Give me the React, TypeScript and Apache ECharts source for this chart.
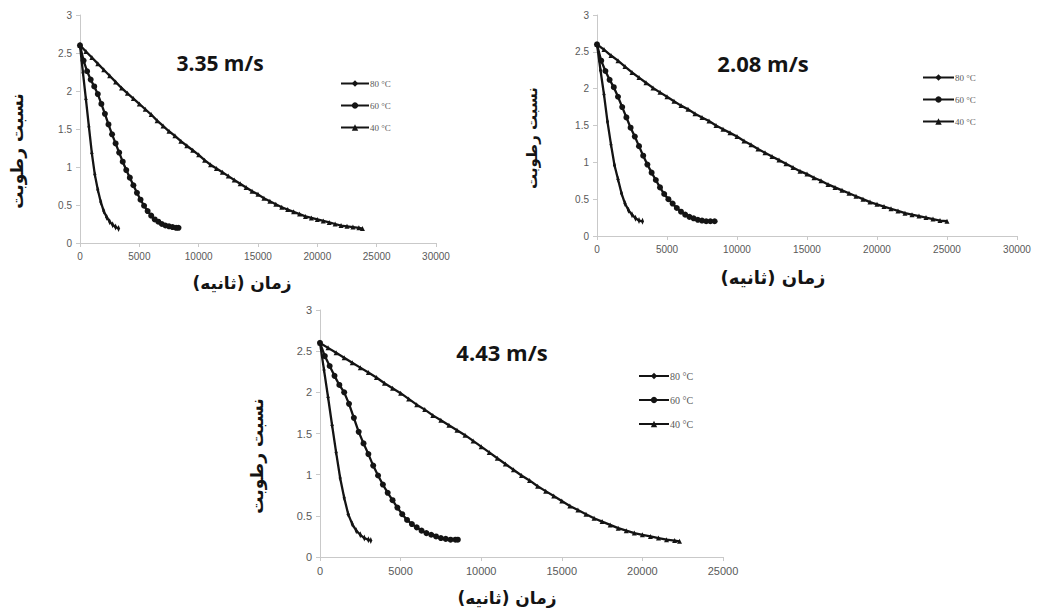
import React, { useEffect, useRef } from "react";
import * as echarts from "echarts";

// ---------- data ----------
const seriesNames = ["80 °C", "60 °C", "40 °C"];
const panelTitles = ["3.35 m/s", "2.08 m/s", "4.43 m/s"];
const yTicks = [0, 0.5, 1, 1.5, 2, 2.5, 3];
const xMax = [30000, 30000, 25000];

// panel 1 : 3.35 m/s
const t80_p1 = [0, 250, 500, 750, 1000, 1250, 1500, 1750, 2000, 2250, 2500, 2750, 3000, 3250];
const m80_p1 = [2.6, 2.24, 1.89, 1.53, 1.18, 0.9, 0.7, 0.54, 0.42, 0.34, 0.28, 0.24, 0.21, 0.19];
const t60_p1 = [0, 300, 600, 900, 1200, 1500, 1800, 2100, 2400, 2700, 3000, 3300, 3600, 3900, 4200, 4500, 4800, 5100, 5400, 5700, 6000, 6300, 6600, 6900, 7200, 7500, 7800, 8100, 8300];
const m60_p1 = [2.6, 2.4, 2.26, 2.15, 2.06, 1.96, 1.83, 1.7, 1.56, 1.43, 1.31, 1.19, 1.07, 0.96, 0.86, 0.76, 0.66, 0.57, 0.49, 0.42, 0.36, 0.31, 0.28, 0.25, 0.23, 0.22, 0.21, 0.2, 0.2];
const t40_p1 = [0, 500, 1000, 1500, 2000, 2500, 3000, 3500, 4000, 4500, 5000, 5500, 6000, 6500, 7000, 7500, 8000, 8500, 9000, 9500, 10000, 10500, 11000, 11500, 12000, 12500, 13000, 13500, 14000, 14500, 15000, 15500, 16000, 16500, 17000, 17500, 18000, 18500, 19000, 19500, 20000, 20500, 21000, 21500, 22000, 22500, 23000, 23500, 23800];
const m40_p1 = [2.6, 2.52, 2.44, 2.36, 2.28, 2.2, 2.12, 2.04, 1.97, 1.9, 1.83, 1.76, 1.69, 1.61, 1.54, 1.47, 1.41, 1.34, 1.28, 1.22, 1.16, 1.09, 1.03, 0.98, 0.93, 0.88, 0.83, 0.78, 0.73, 0.68, 0.64, 0.59, 0.55, 0.51, 0.47, 0.44, 0.41, 0.38, 0.35, 0.33, 0.31, 0.29, 0.27, 0.25, 0.23, 0.22, 0.21, 0.2, 0.19];

// panel 2 : 2.08 m/s
const t80_p2 = [0, 250, 500, 750, 1000, 1250, 1500, 1750, 2000, 2250, 2500, 2750, 3000, 3250];
const m80_p2 = [2.6, 2.25, 1.92, 1.55, 1.24, 0.96, 0.77, 0.58, 0.44, 0.35, 0.29, 0.24, 0.21, 0.2];
const t60_p2 = [0, 300, 600, 900, 1200, 1500, 1800, 2100, 2400, 2700, 3000, 3300, 3600, 3900, 4200, 4500, 4800, 5100, 5400, 5700, 6000, 6300, 6600, 6900, 7200, 7500, 7800, 8100, 8400];
const m60_p2 = [2.6, 2.38, 2.24, 2.12, 2.02, 1.89, 1.75, 1.61, 1.47, 1.35, 1.22, 1.09, 0.97, 0.86, 0.76, 0.66, 0.57, 0.5, 0.44, 0.38, 0.33, 0.29, 0.26, 0.24, 0.22, 0.21, 0.2, 0.2, 0.2];
const t40_p2 = [0, 500, 1000, 1500, 2000, 2500, 3000, 3500, 4000, 4500, 5000, 5500, 6000, 6500, 7000, 7500, 8000, 8500, 9000, 9500, 10000, 10500, 11000, 11500, 12000, 12500, 13000, 13500, 14000, 14500, 15000, 15500, 16000, 16500, 17000, 17500, 18000, 18500, 19000, 19500, 20000, 20500, 21000, 21500, 22000, 22500, 23000, 23500, 24000, 24500, 25000];
const m40_p2 = [2.6, 2.53, 2.45, 2.38, 2.3, 2.22, 2.15, 2.08, 2.01, 1.95, 1.89, 1.83, 1.77, 1.72, 1.66, 1.61, 1.56, 1.5, 1.45, 1.4, 1.35, 1.29, 1.24, 1.18, 1.13, 1.08, 1.03, 0.98, 0.93, 0.88, 0.84, 0.79, 0.75, 0.7, 0.66, 0.62, 0.58, 0.54, 0.5, 0.46, 0.43, 0.4, 0.37, 0.34, 0.31, 0.29, 0.27, 0.25, 0.23, 0.21, 0.2];

// panel 3 : 4.43 m/s
const t80_p3 = [0, 250, 500, 750, 1000, 1250, 1500, 1750, 2000, 2250, 2500, 2750, 3000, 3150];
const m80_p3 = [2.6, 2.27, 1.94, 1.6, 1.27, 0.96, 0.72, 0.52, 0.4, 0.32, 0.27, 0.23, 0.21, 0.2];
const t60_p3 = [0, 300, 600, 900, 1200, 1500, 1800, 2100, 2400, 2700, 3000, 3300, 3600, 3900, 4200, 4500, 4800, 5100, 5400, 5700, 6000, 6300, 6600, 6900, 7200, 7500, 7800, 8100, 8400, 8550];
const m60_p3 = [2.6, 2.44, 2.32, 2.2, 2.09, 2.0, 1.86, 1.69, 1.52, 1.38, 1.25, 1.11, 0.99, 0.88, 0.78, 0.69, 0.6, 0.52, 0.45, 0.4, 0.36, 0.32, 0.29, 0.27, 0.25, 0.23, 0.22, 0.21, 0.21, 0.21];
const t40_p3 = [0, 500, 1000, 1500, 2000, 2500, 3000, 3500, 4000, 4500, 5000, 5500, 6000, 6500, 7000, 7500, 8000, 8500, 9000, 9500, 10000, 10500, 11000, 11500, 12000, 12500, 13000, 13500, 14000, 14500, 15000, 15500, 16000, 16500, 17000, 17500, 18000, 18500, 19000, 19500, 20000, 20500, 21000, 21500, 22000, 22300];
const m40_p3 = [2.6, 2.54, 2.48, 2.42, 2.36, 2.3, 2.24, 2.18, 2.11, 2.05, 1.99, 1.92, 1.85, 1.79, 1.72, 1.66, 1.6, 1.54, 1.48, 1.41, 1.34, 1.27, 1.2, 1.13, 1.06, 0.99, 0.93, 0.86, 0.8, 0.74, 0.68, 0.62, 0.57, 0.52, 0.47, 0.43, 0.39, 0.35, 0.32, 0.29, 0.27, 0.25, 0.23, 0.21, 0.2, 0.19];

const yAxisTitle = "نسبت رطوبت";
const xAxisTitle = "زمان (ثانیه)\u200F";

// ---------- layout ----------
const panels = [
  {
    grid: { left: 80, top: 15, width: 356, height: 228 },
    tickFont: 10, legendFont: 9, titleFont: 21, arFont: 17, xNameFont: 17,
    title: [220, 63], yName: [17, 151], xName: [242, 283],
    legend: { left: 335, top: 74, itemWidth: 28, itemGap: 13 },
    sets: [[t80_p1, m80_p1], [t60_p1, m60_p1], [t40_p1, m40_p1]],
  },
  {
    grid: { left: 597, top: 15, width: 420, height: 221 },
    tickFont: 10, legendFont: 9, titleFont: 22, arFont: 15, xNameFont: 18,
    title: [763, 63], yName: [532, 138], xName: [773, 277],
    legend: { left: 917, top: 68, itemWidth: 31, itemGap: 13 },
    sets: [[t80_p2, m80_p2], [t60_p2, m60_p2], [t40_p2, m40_p2]],
  },
  {
    grid: { left: 320, top: 310, width: 403, height: 247 },
    tickFont: 11, legendFont: 10, titleFont: 22, arFont: 17, xNameFont: 17,
    title: [502, 352], yName: [257, 456], xName: [507, 598],
    legend: { left: 633, top: 366, itemWidth: 30, itemGap: 14 },
    sets: [[t80_p3, m80_p3], [t60_p3, m60_p3], [t40_p3, m40_p3]],
  },
];

const symbols = [
  { symbol: "diamond", symbolSize: [3, 7] },
  { symbol: "circle", symbolSize: 6 },
  { symbol: "triangle", symbolSize: 5 },
];

const AXIS_COLOR = "#c9c9c9";
const LABEL_COLOR = "#595959";
const INK = "#141414";

export default function App() {
  const ref = useRef<HTMLDivElement>(null);

  useEffect(() => {
    if (!ref.current) return;
    const chart = echarts.init(ref.current, undefined, { renderer: "svg" });

    const grid = panels.map((p) => ({ ...p.grid, containLabel: false }));
    const xAxis = panels.map((p, i) => ({
      type: "value",
      gridIndex: i,
      min: 0,
      max: xMax[i],
      interval: 5000,
      axisLine: { show: true, lineStyle: { color: AXIS_COLOR, width: 1 } },
      axisTick: { show: true, length: 4, lineStyle: { color: AXIS_COLOR } },
      axisLabel: {
        color: LABEL_COLOR,
        fontSize: p.tickFont,
        fontFamily: "Liberation Sans",
        margin: 8,
        formatter: (v: number) => String(v),
      },
      splitLine: { show: false },
    }));
    const yAxis = panels.map((p, i) => ({
      type: "value",
      gridIndex: i,
      min: yTicks[0],
      max: yTicks[yTicks.length - 1],
      interval: 0.5,
      axisLine: { show: true, lineStyle: { color: AXIS_COLOR, width: 1 } },
      axisTick: { show: true, length: 4, lineStyle: { color: AXIS_COLOR } },
      axisLabel: {
        color: LABEL_COLOR,
        fontSize: p.tickFont,
        fontFamily: "Liberation Sans",
        margin: 8,
      },
      splitLine: { show: false },
    }));

    const series: any[] = [];
    panels.forEach((p, i) => {
      p.sets.forEach(([t, m], k) => {
        series.push({
          type: "line",
          name: seriesNames[k],
          xAxisIndex: i,
          yAxisIndex: i,
          data: t.map((x, j) => [x, m[j]]),
          symbol: symbols[k].symbol,
          symbolSize: symbols[k].symbolSize,
          showSymbol: true,
          lineStyle: { color: INK, width: 2.3 },
          itemStyle: { color: INK, borderWidth: 0 },
          z: 3 - k,
        });
      });
    });

    const legend = panels.map((p) => ({
      orient: "vertical",
      left: p.legend.left,
      top: p.legend.top,
      itemWidth: p.legend.itemWidth,
      itemHeight: 8,
      itemGap: p.legend.itemGap,
      data: seriesNames,
      textStyle: { color: LABEL_COLOR, fontSize: p.legendFont, fontFamily: "Liberation Serif", padding: [0, 0, 0, -4] },
      selectedMode: false,
    }));

    const graphic: any[] = [];
    panels.forEach((p, i) => {
      graphic.push({
        type: "text",
        x: p.title[0],
        y: p.title[1],
        style: {
          text: panelTitles[i],
          align: "center",
          verticalAlign: "middle",
          font: `bold ${p.titleFont}px "Open Sans"`,
          fill: INK,
        },
      });
      graphic.push({
        type: "text",
        x: p.yName[0],
        y: p.yName[1],
        rotation: Math.PI / 2,
        style: {
          text: yAxisTitle,
          align: "center",
          verticalAlign: "middle",
          font: `bold ${p.arFont}px "DejaVu Sans"`,
          fill: INK,
        },
      });
      graphic.push({
        type: "text",
        x: p.xName[0],
        y: p.xName[1],
        style: {
          text: xAxisTitle,
          align: "center",
          verticalAlign: "middle",
          font: `bold ${p.xNameFont}px "DejaVu Sans"`,
          fill: INK,
        },
      });
    });

    chart.setOption({
      animation: false,
      backgroundColor: "#ffffff",
      grid,
      xAxis,
      yAxis,
      legend,
      series,
      graphic,
    });

    return () => chart.dispose();
  }, []);

  return (
    <div
      ref={ref}
      style={{ position: "fixed", left: 0, top: 0, width: 1039, height: 613, background: "#fff" }}
    />
  );
}
